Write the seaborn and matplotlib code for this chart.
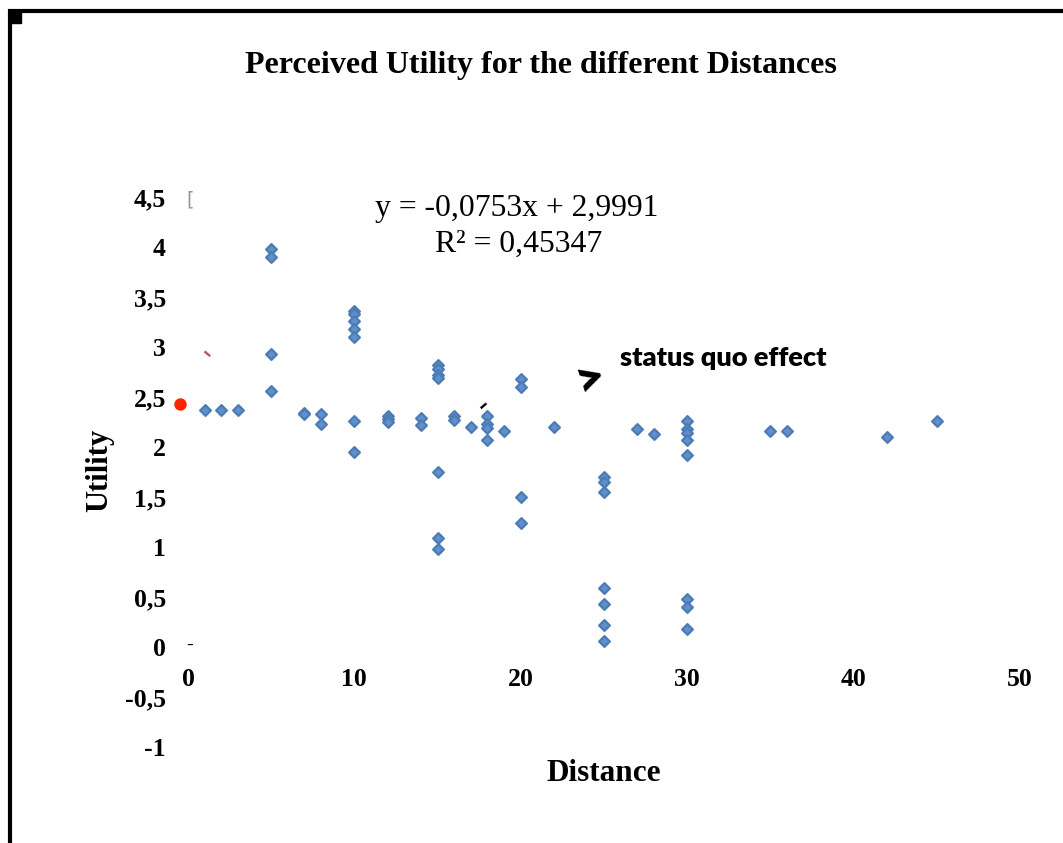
import numpy as np
import pandas as pd
import matplotlib
matplotlib.use("Agg")
import matplotlib.pyplot as plt
import seaborn as sns
from matplotlib.lines import Line2D
from matplotlib.markers import MarkerStyle
from matplotlib.patches import Rectangle

blue = '#5f90cb'
edge = '#4d7bb6'

# distance / perceived utility pairs
distance = [1, 2, 3,
            5, 5, 5, 5,
            7, 7, 8, 8,
            10, 10, 10, 10, 10, 10, 10,
            12, 12, 12, 14, 14,
            15, 15, 15, 15, 15, 15, 15,
            16, 16, 17, 18, 18, 18, 18, 19,
            20, 20, 20, 20, 22,
            25, 25, 25, 25, 25, 25, 25,
            27, 28,
            30, 30, 30, 30, 30, 30, 30, 30,
            35, 36, 42, 45]
utility = [2.37, 2.37, 2.37,
           3.98, 3.90, 2.93, 2.56,
           2.34, 2.33, 2.33, 2.23,
           3.36, 3.33, 3.26, 3.18, 3.10, 2.26, 1.95,
           2.31, 2.28, 2.25, 2.29, 2.22,
           2.82, 2.78, 2.72, 2.69, 1.75, 1.09, 0.98,
           2.31, 2.27, 2.20, 2.31, 2.23, 2.19, 2.07, 2.16,
           2.68, 2.60, 1.50, 1.24, 2.20,
           1.70, 1.65, 1.55, 0.59, 0.43, 0.22, 0.06,
           2.18, 2.13,
           2.26, 2.18, 2.14, 2.07, 1.92, 0.48, 0.40, 0.18,
           2.16, 2.16, 2.10, 2.26]

# status quo option
sq_distance = [-0.5]
sq_utility = [2.43]

x_ticks = [0, 10, 20, 30, 40, 50]
y_ticks = [-1, -0.5, 0, 0.5, 1, 1.5, 2, 2.5, 3, 3.5, 4, 4.5]

df = pd.DataFrame({'Distance': distance, 'Utility': utility})
sq = pd.DataFrame({'Distance': sq_distance, 'Utility': sq_utility})

sns.set_style('white')
plt.rcParams['font.family'] = ['Liberation Serif', 'DejaVu Serif']
plt.rcParams['text.color'] = 'black'
plt.rcParams['xtick.color'] = 'black'
plt.rcParams['ytick.color'] = 'black'

fig = plt.figure(figsize=(10.63, 8.43), dpi=100)
ax = fig.add_axes([0.1612, 0.1020, 0.8139, 0.688])

sns.scatterplot(data=df, x='Distance', y='Utility', ax=ax,
                marker=MarkerStyle('D', joinstyle='round'), s=30,
                color=blue, edgecolor=edge, linewidth=1.6)
sns.scatterplot(data=sq, x='Distance', y='Utility', ax=ax, marker='o', s=80,
                color='#ff2200', edgecolor='#ff2200', linewidth=0)

ax.set_xlim(-1, 51)
ax.set_ylim(-1.1, 4.7)
for s in ax.spines.values():
    s.set_visible(False)
ax.spines['bottom'].set_position(('data', 0))

ax.set_xticks(x_ticks)
ax.set_yticks(y_ticks)
ax.set_xticklabels([str(t) for t in x_ticks], fontsize=18.5, fontweight='bold')
ax.set_yticklabels([f'{t:g}'.replace('.', ',') for t in y_ticks], fontsize=18.5, fontweight='bold')
ax.tick_params(axis='x', length=0, pad=15)
ax.tick_params(axis='y', length=0, pad=4)
ax.set_xlabel('')
ax.set_ylabel('')
ax.grid(False)

# trendline equation
ax.text(19.77, 4.39, 'y = -0,0753x + 2,9991', ha='center', va='center', fontsize=22.8)
ax.text(19.9, 4.03, 'R² = 0,45347', ha='center', va='center', fontsize=22.8)

# status quo annotation
ax.text(25.96, 2.89, 'status quo effect', ha='left', va='center', fontsize=19.5,
        fontweight='heavy', family=['Lato', 'DejaVu Sans'])
ax.text(24.2, 2.69, '>', ha='center', va='center', fontsize=36, fontweight='heavy',
        rotation=18, family=['Lato', 'DejaVu Sans'])

# stray marks
ax.text(0.15, 4.47, '[', ha='center', va='center', fontsize=14, color='#999999',
        family=['DejaVu Sans'])
ax.text(1.15, 2.93, '–', ha='center', va='center', fontsize=14, color='#c0504d',
        rotation=-40, fontweight='bold', family=['DejaVu Sans'])
ax.text(17.75, 2.42, '–', ha='center', va='center', fontsize=14, color='black',
        rotation=40, fontweight='bold', family=['DejaVu Sans'])
ax.text(0.1, 0.02, '-', ha='center', va='center', fontsize=14, color='black')

fig.text(0.509, 0.922, 'Perceived Utility for the different Distances', ha='center',
         va='center', fontsize=23, fontweight='bold')
fig.text(0.094, 0.4425, 'Utility', ha='center', va='center', rotation=90,
         fontsize=22, fontweight='bold')
fig.text(0.568, 0.083, 'Distance', ha='center', va='center', fontsize=22.5,
         fontweight='bold')

# outer frame (top and left edges only)
fig.add_artist(Line2D([0.0078, 1.0], [0.9866, 0.9866], color='black', lw=3,
                      transform=fig.transFigure, solid_capstyle='butt'))
fig.add_artist(Line2D([0.0097, 0.0097], [0.9890, 0.0], color='black', lw=3,
                      transform=fig.transFigure, solid_capstyle='butt'))
fig.add_artist(Rectangle((0.0094, 0.9727), 0.0104, 0.0139, color='black',
                         transform=fig.transFigure))

fig.savefig('out.png', dpi=100)
